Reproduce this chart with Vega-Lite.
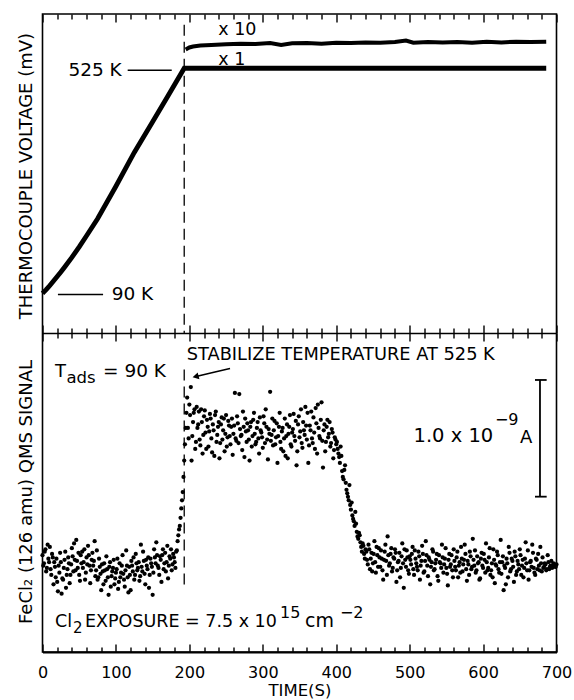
{
"$schema": "https://vega.github.io/schema/vega-lite/v6.json",
"autosize": {"type": "none"},
"width": 514, "height": 638,
"padding": {"left": 42.5, "top": 14, "right": 17.5, "bottom": 48},
"datasets": {
"tc": [{"t":0,"v":12.4},{"t":5,"v":13.6},{"t":10,"v":14.9},{"t":15,"v":16.3},{"t":20,"v":17.7},{"t":25,"v":19.1},{"t":30,"v":20.6},{"t":40,"v":23.7},{"t":50,"v":27.0},{"t":60,"v":30.5},{"t":75,"v":35.8},{"t":100,"v":46.0},{"t":125,"v":56.6},{"t":150,"v":66.2},{"t":170,"v":74.0},{"t":193,"v":83.0},{"t":250,"v":83.0},{"t":400,"v":83.0},{"t":550,"v":83.0},{"t":686,"v":83.0}],
"x10": [{"t":195,"v":88.9},{"t":200,"v":89.5},{"t":205,"v":89.8},{"t":215,"v":90.1},{"t":230,"v":90.3},{"t":250,"v":90.5},{"t":270,"v":90.7},{"t":290,"v":90.6},{"t":310,"v":90.9},{"t":325,"v":90.3},{"t":340,"v":90.8},{"t":360,"v":90.9},{"t":380,"v":90.7},{"t":400,"v":91.0},{"t":420,"v":90.9},{"t":440,"v":91.1},{"t":460,"v":91.0},{"t":480,"v":91.2},{"t":495,"v":91.7},{"t":505,"v":91.0},{"t":525,"v":91.2},{"t":545,"v":91.1},{"t":565,"v":91.2},{"t":585,"v":91.0},{"t":605,"v":91.3},{"t":625,"v":91.1},{"t":645,"v":91.3},{"t":665,"v":91.2},{"t":686,"v":91.3}],
"arrow": [{"t":255.4,"s":2.43},{"t":232,"s":2.395},{"t":209,"s":2.36}],
"qms": [
{"t":0,"s":0.83},{"t":2,"s":0.76},{"t":4,"s":0.88},{"t":6,"s":0.72},{"t":8,"s":0.80},{"t":10,"s":0.90},{"t":12,"s":0.66},{"t":14,"s":0.81},{"t":16,"s":0.77},{"t":18,"s":0.64},
{"t":20,"s":0.60},{"t":22,"s":0.74},{"t":24,"s":0.85},{"t":26,"s":0.50},{"t":28,"s":0.62},{"t":30,"s":0.79},{"t":32,"s":0.55},{"t":34,"s":0.71},{"t":36,"s":0.76},{"t":38,"s":0.66},
{"t":40,"s":0.89},{"t":42,"s":0.69},{"t":44,"s":0.79},{"t":46,"s":0.96},{"t":48,"s":0.72},{"t":50,"s":0.66},{"t":52,"s":0.83},{"t":54,"s":0.86},{"t":56,"s":0.77},{"t":58,"s":0.62},
{"t":60,"s":0.81},{"t":62,"s":0.91},{"t":64,"s":0.74},{"t":66,"s":0.70},{"t":68,"s":0.85},{"t":70,"s":0.78},{"t":72,"s":0.65},{"t":74,"s":0.87},{"t":76,"s":0.64},{"t":78,"s":0.73},
{"t":80,"s":0.53},{"t":82,"s":0.69},{"t":84,"s":0.76},{"t":86,"s":0.61},{"t":88,"s":0.71},{"t":90,"s":0.49},{"t":92,"s":0.77},{"t":94,"s":0.65},{"t":96,"s":0.72},{"t":98,"s":0.58},
{"t":100,"s":0.68},{"t":102,"s":0.80},{"t":104,"s":0.60},{"t":106,"s":0.64},{"t":108,"s":0.74},{"t":110,"s":0.67},{"t":112,"s":0.56},{"t":114,"s":0.87},{"t":116,"s":0.64},{"t":118,"s":0.73},
{"t":120,"s":0.53},{"t":122,"s":0.74},{"t":124,"s":0.81},{"t":126,"s":0.66},{"t":128,"s":0.76},{"t":130,"s":0.72},{"t":132,"s":0.61},{"t":134,"s":0.92},{"t":136,"s":0.69},{"t":138,"s":0.78},
{"t":140,"s":0.58},{"t":142,"s":0.74},{"t":144,"s":0.81},{"t":146,"s":0.66},{"t":148,"s":0.76},{"t":150,"s":0.49},{"t":152,"s":0.88},{"t":154,"s":0.76},{"t":156,"s":0.83},{"t":158,"s":0.72},
{"t":160,"s":0.82},{"t":162,"s":0.60},{"t":164,"s":0.88},{"t":166,"s":0.76},{"t":168,"s":0.69},{"t":170,"s":0.91},{"t":172,"s":0.74},{"t":174,"s":0.80},{"t":176,"s":0.70},{"t":178,"s":0.84},
{"t":180,"s":0.77},{"t":182,"s":0.86},{"t":184,"s":0.95},{"t":186,"s":1.05},{"t":188,"s":1.15},{"t":190,"s":1.30},{"t":191,"s":1.37},{"t":192,"s":1.50},{"t":193,"s":1.64},{"t":194,"s":1.78},{"t":195,"s":1.92},{"t":196,"s":2.05},
{"t":198,"s":1.92},{"t":200,"s":2.12},{"t":202,"s":2.27},{"t":204,"s":1.85},{"t":206,"s":2.05},{"t":208,"s":1.74},{"t":210,"s":2.10},{"t":212,"s":1.95},{"t":214,"s":1.82},{"t":216,"s":2.08},{"t":218,"s":1.70},
{"t":220,"s":2.02},{"t":222,"s":1.88},{"t":224,"s":1.99},{"t":226,"s":1.76},{"t":228,"s":2.04},{"t":230,"s":1.83},{"t":232,"s":1.95},{"t":234,"s":1.68},{"t":236,"s":2.06},{"t":238,"s":1.86},
{"t":240,"s":1.97},{"t":242,"s":1.79},{"t":244,"s":2.01},{"t":246,"s":1.90},{"t":248,"s":1.72},{"t":250,"s":2.03},{"t":252,"s":1.84},{"t":254,"s":1.94},{"t":256,"s":1.78},{"t":258,"s":2.00},
{"t":260,"s":1.87},{"t":262,"s":2.22},{"t":264,"s":1.81},{"t":266,"s":1.96},{"t":268,"s":2.21},{"t":270,"s":1.85},{"t":272,"s":1.73},{"t":274,"s":1.93},{"t":276,"s":2.00},{"t":278,"s":1.80},
{"t":280,"s":1.90},{"t":282,"s":1.64},{"t":284,"s":1.97},{"t":286,"s":1.85},{"t":288,"s":2.05},{"t":290,"s":1.78},{"t":292,"s":1.92},{"t":294,"s":1.83},{"t":296,"s":2.01},{"t":298,"s":1.88},
{"t":300,"s":1.75},{"t":302,"s":1.96},{"t":304,"s":2.08},{"t":306,"s":1.82},{"t":308,"s":1.91},{"t":310,"s":2.23},{"t":312,"s":1.86},{"t":314,"s":1.77},{"t":316,"s":1.98},{"t":318,"s":1.84},
{"t":320,"s":1.62},{"t":322,"s":1.93},{"t":324,"s":1.80},{"t":326,"s":1.89},{"t":328,"s":1.72},{"t":330,"s":2.00},{"t":332,"s":1.85},{"t":334,"s":1.66},{"t":336,"s":1.93},{"t":338,"s":1.78},
{"t":340,"s":1.88},{"t":342,"s":2.04},{"t":344,"s":1.81},{"t":346,"s":1.60},{"t":348,"s":1.95},{"t":350,"s":1.84},{"t":352,"s":2.08},{"t":354,"s":1.75},{"t":356,"s":1.90},{"t":358,"s":2.10},
{"t":360,"s":1.82},{"t":362,"s":1.62},{"t":364,"s":1.94},{"t":366,"s":2.06},{"t":368,"s":1.79},{"t":370,"s":1.88},{"t":372,"s":2.09},{"t":374,"s":1.70},{"t":376,"s":1.92},{"t":378,"s":1.83},
{"t":380,"s":2.14},{"t":382,"s":1.58},{"t":384,"s":1.95},{"t":386,"s":1.80},{"t":388,"s":1.99},{"t":390,"s":1.87},{"t":392,"s":1.76},{"t":394,"s":1.91},{"t":396,"s":1.66},{"t":398,"s":1.84},
{"t":400,"s":1.78},{"t":402,"s":1.74},{"t":404,"s":1.67},{"t":406,"s":1.76},{"t":408,"s":1.55},{"t":410,"s":1.48},{"t":412,"s":1.60},{"t":414,"s":1.39},{"t":416,"s":1.33},{"t":418,"s":1.43},
{"t":420,"s":1.22},{"t":422,"s":1.17},{"t":424,"s":1.12},{"t":426,"s":1.20},{"t":428,"s":1.03},{"t":430,"s":0.97},{"t":432,"s":1.00},{"t":434,"s":0.90},{"t":436,"s":0.93},{"t":438,"s":0.84},
{"t":440,"s":0.88},{"t":442,"s":0.79},{"t":444,"s":0.92},{"t":446,"s":0.71},{"t":448,"s":0.85},{"t":450,"s":0.76},{"t":452,"s":0.95},{"t":454,"s":0.68},{"t":456,"s":0.83},{"t":458,"s":0.89},
{"t":460,"s":0.73},{"t":462,"s":0.80},{"t":464,"s":0.62},{"t":466,"s":0.86},{"t":468,"s":0.78},{"t":470,"s":0.99},{"t":472,"s":0.74},{"t":474,"s":0.84},{"t":476,"s":0.69},{"t":478,"s":0.81},
{"t":480,"s":0.88},{"t":482,"s":0.60},{"t":484,"s":0.77},{"t":486,"s":0.85},{"t":488,"s":0.72},{"t":490,"s":0.93},{"t":492,"s":0.55},{"t":494,"s":0.79},{"t":496,"s":0.87},{"t":498,"s":0.70},
{"t":500,"s":0.82},{"t":502,"s":0.75},{"t":504,"s":0.90},{"t":506,"s":0.66},{"t":508,"s":0.80},{"t":510,"s":0.73},{"t":512,"s":0.86},{"t":514,"s":0.62},{"t":516,"s":0.78},{"t":518,"s":0.84},
{"t":520,"s":0.69},{"t":522,"s":0.95},{"t":524,"s":0.74},{"t":526,"s":0.81},{"t":528,"s":0.58},{"t":530,"s":0.77},{"t":532,"s":0.86},{"t":534,"s":0.71},{"t":536,"s":0.79},{"t":538,"s":0.65},
{"t":540,"s":0.83},{"t":542,"s":0.76},{"t":544,"s":0.92},{"t":546,"s":0.68},{"t":548,"s":0.80},{"t":550,"s":0.72},{"t":552,"s":0.57},{"t":554,"s":0.84},{"t":556,"s":0.75},{"t":558,"s":0.70},
{"t":560,"s":0.88},{"t":562,"s":0.73},{"t":564,"s":0.81},{"t":566,"s":0.64},{"t":568,"s":0.77},{"t":570,"s":0.90},{"t":572,"s":0.69},{"t":574,"s":0.79},{"t":576,"s":0.84},{"t":578,"s":0.61},
{"t":580,"s":0.75},{"t":582,"s":0.86},{"t":584,"s":0.71},{"t":586,"s":0.97},{"t":588,"s":0.74},{"t":590,"s":0.68},{"t":592,"s":0.82},{"t":594,"s":0.77},{"t":596,"s":0.63},{"t":598,"s":0.85},
{"t":600,"s":0.72},{"t":602,"s":0.79},{"t":604,"s":0.93},{"t":606,"s":0.70},{"t":608,"s":0.81},{"t":610,"s":0.66},{"t":612,"s":0.76},{"t":614,"s":0.88},{"t":616,"s":0.59},{"t":618,"s":0.74},
{"t":620,"s":0.83},{"t":622,"s":0.68},{"t":624,"s":0.96},{"t":626,"s":0.77},{"t":628,"s":0.53},{"t":630,"s":0.72},{"t":632,"s":0.80},{"t":634,"s":0.64},{"t":636,"s":0.85},{"t":638,"s":0.71},
{"t":640,"s":0.78},{"t":642,"s":0.60},{"t":644,"s":0.82},{"t":646,"s":0.69},{"t":648,"s":0.75},{"t":650,"s":0.88},{"t":652,"s":0.66},{"t":654,"s":0.79},{"t":656,"s":0.72},{"t":658,"s":0.94},
{"t":660,"s":0.70},{"t":662,"s":0.62},{"t":664,"s":0.77},{"t":666,"s":0.73},{"t":668,"s":0.85},{"t":670,"s":0.68},{"t":672,"s":0.80},{"t":674,"s":0.71},{"t":676,"s":0.74},{"t":678,"s":0.90},
{"t":680,"s":0.69},{"t":682,"s":0.72},{"t":684,"s":0.76},{"t":686,"s":0.70},{"t":688,"s":0.83},{"t":690,"s":0.71},{"t":692,"s":0.74},{"t":694,"s":0.72},{"t":696,"s":0.76},{"t":698,"s":0.73},{"t":700,"s":0.75},
{"t":1,"s":0.74},{"t":3,"s":0.86},{"t":5,"s":0.69},{"t":7,"s":0.92},{"t":9,"s":0.77},{"t":11,"s":0.71},{"t":13,"s":0.84},{"t":15,"s":0.58},{"t":17,"s":0.73},{"t":19,"s":0.80},
{"t":21,"s":0.52},{"t":23,"s":0.68},{"t":25,"s":0.77},{"t":27,"s":0.63},{"t":29,"s":0.72},{"t":31,"s":0.86},{"t":33,"s":0.66},{"t":35,"s":0.81},{"t":37,"s":0.59},{"t":39,"s":0.75},
{"t":41,"s":0.82},{"t":43,"s":0.93},{"t":45,"s":0.70},{"t":47,"s":0.78},{"t":49,"s":0.85},{"t":51,"s":0.61},{"t":53,"s":0.76},{"t":55,"s":0.72},{"t":57,"s":0.88},{"t":59,"s":0.68},
{"t":61,"s":0.75},{"t":63,"s":0.83},{"t":65,"s":0.59},{"t":67,"s":0.79},{"t":69,"s":0.74},{"t":71,"s":0.95},{"t":73,"s":0.70},{"t":75,"s":0.62},{"t":77,"s":0.80},{"t":79,"s":0.67},
{"t":81,"s":0.75},{"t":83,"s":0.58},{"t":85,"s":0.70},{"t":87,"s":0.82},{"t":89,"s":0.64},{"t":91,"s":0.73},{"t":93,"s":0.56},{"t":95,"s":0.69},{"t":97,"s":0.79},{"t":99,"s":0.63},
{"t":101,"s":0.71},{"t":103,"s":0.54},{"t":105,"s":0.76},{"t":107,"s":0.68},{"t":109,"s":0.83},{"t":111,"s":0.62},{"t":113,"s":0.70},{"t":115,"s":0.74},{"t":117,"s":0.51},{"t":119,"s":0.66},
{"t":121,"s":0.78},{"t":123,"s":0.69},{"t":125,"s":0.62},{"t":127,"s":0.84},{"t":129,"s":0.70},{"t":131,"s":0.77},{"t":133,"s":0.65},{"t":135,"s":0.73},{"t":137,"s":0.86},{"t":139,"s":0.67},
{"t":141,"s":0.79},{"t":143,"s":0.71},{"t":145,"s":0.55},{"t":147,"s":0.80},{"t":149,"s":0.73},{"t":151,"s":0.68},{"t":153,"s":0.81},{"t":155,"s":0.94},{"t":157,"s":0.74},{"t":159,"s":0.66},
{"t":161,"s":0.79},{"t":163,"s":0.83},{"t":165,"s":0.71},{"t":167,"s":0.85},{"t":169,"s":0.77},{"t":171,"s":0.63},{"t":173,"s":0.82},{"t":175,"s":0.88},{"t":177,"s":0.75},{"t":179,"s":0.81},
{"t":181,"s":0.72},{"t":183,"s":0.87},{"t":185,"s":1.00},{"t":187,"s":1.08},{"t":189,"s":1.23},
{"t":197,"s":2.18},{"t":199,"s":1.83},{"t":201,"s":2.03},{"t":203,"s":1.64},{"t":205,"s":1.97},{"t":207,"s":2.08},{"t":209,"s":1.80},{"t":211,"s":1.92},{"t":213,"s":2.06},{"t":215,"s":1.77},
{"t":217,"s":1.97},{"t":219,"s":1.86},{"t":221,"s":2.07},{"t":223,"s":1.74},{"t":225,"s":1.93},{"t":227,"s":1.89},{"t":229,"s":2.00},{"t":231,"s":1.71},{"t":233,"s":1.90},{"t":235,"s":2.03},
{"t":237,"s":1.80},{"t":239,"s":1.93},{"t":241,"s":1.66},{"t":243,"s":1.95},{"t":245,"s":1.82},{"t":247,"s":2.00},{"t":249,"s":1.87},{"t":251,"s":1.76},{"t":253,"s":1.98},{"t":255,"s":1.85},
{"t":257,"s":1.93},{"t":259,"s":1.69},{"t":261,"s":1.94},{"t":263,"s":1.83},{"t":265,"s":2.02},{"t":267,"s":1.79},{"t":269,"s":1.91},{"t":271,"s":1.86},{"t":273,"s":2.06},{"t":275,"s":1.67},
{"t":277,"s":1.89},{"t":279,"s":1.96},{"t":281,"s":1.82},{"t":283,"s":1.93},{"t":285,"s":1.76},{"t":287,"s":1.99},{"t":289,"s":1.87},{"t":291,"s":1.80},{"t":293,"s":1.97},{"t":295,"s":1.70},
{"t":297,"s":1.90},{"t":299,"s":1.84},{"t":301,"s":2.02},{"t":303,"s":1.79},{"t":305,"s":1.93},{"t":307,"s":1.65},{"t":309,"s":1.87},{"t":311,"s":1.81},{"t":313,"s":2.00},{"t":315,"s":1.90},
{"t":317,"s":1.78},{"t":319,"s":1.96},{"t":321,"s":1.85},{"t":323,"s":2.05},{"t":325,"s":1.74},{"t":327,"s":1.92},{"t":329,"s":1.83},{"t":331,"s":1.68},{"t":333,"s":1.95},{"t":335,"s":1.87},
{"t":337,"s":2.03},{"t":339,"s":1.76},{"t":341,"s":1.91},{"t":343,"s":1.85},{"t":345,"s":1.98},{"t":347,"s":1.72},{"t":349,"s":2.02},{"t":351,"s":1.89},{"t":353,"s":1.79},{"t":355,"s":1.97},
{"t":357,"s":1.86},{"t":359,"s":1.94},{"t":361,"s":2.05},{"t":363,"s":1.77},{"t":365,"s":1.90},{"t":367,"s":1.83},{"t":369,"s":2.01},{"t":371,"s":1.74},{"t":373,"s":1.96},{"t":375,"s":2.12},
{"t":377,"s":1.85},{"t":379,"s":1.99},{"t":381,"s":1.81},{"t":383,"s":1.90},{"t":385,"s":1.72},{"t":387,"s":1.93},{"t":389,"s":1.84},{"t":391,"s":1.97},{"t":393,"s":1.79},{"t":395,"s":1.88},
{"t":397,"s":1.73},{"t":399,"s":1.82},
{"t":401,"s":1.80},{"t":403,"s":1.70},{"t":405,"s":1.62},{"t":407,"s":1.68},{"t":409,"s":1.50},{"t":411,"s":1.56},{"t":413,"s":1.45},{"t":415,"s":1.36},{"t":417,"s":1.30},{"t":419,"s":1.26},
{"t":421,"s":1.28},{"t":423,"s":1.14},{"t":425,"s":1.08},{"t":427,"s":1.10},{"t":429,"s":0.99},{"t":431,"s":1.02},{"t":433,"s":0.94},{"t":435,"s":0.86},{"t":437,"s":0.91},{"t":439,"s":0.80},
{"t":441,"s":0.86},{"t":443,"s":0.75},{"t":445,"s":0.88},{"t":447,"s":0.80},{"t":449,"s":0.69},{"t":451,"s":0.84},{"t":453,"s":0.77},{"t":455,"s":0.90},{"t":457,"s":0.73},{"t":459,"s":0.81},
{"t":461,"s":0.87},{"t":463,"s":0.70},{"t":465,"s":0.79},{"t":467,"s":0.92},{"t":469,"s":0.66},{"t":471,"s":0.83},{"t":473,"s":0.76},{"t":475,"s":0.89},{"t":477,"s":0.72},{"t":479,"s":0.80},
{"t":481,"s":0.85},{"t":483,"s":0.70},{"t":485,"s":0.78},{"t":487,"s":0.64},{"t":489,"s":0.82},{"t":491,"s":0.76},{"t":493,"s":0.88},{"t":495,"s":0.73},{"t":497,"s":0.81},{"t":499,"s":0.67},
{"t":501,"s":0.79},{"t":503,"s":0.84},{"t":505,"s":0.71},{"t":507,"s":0.87},{"t":509,"s":0.76},{"t":511,"s":0.70},{"t":513,"s":0.82},{"t":515,"s":0.74},{"t":517,"s":0.91},{"t":519,"s":0.68},
{"t":521,"s":0.78},{"t":523,"s":0.83},{"t":525,"s":0.65},{"t":527,"s":0.79},{"t":529,"s":0.73},{"t":531,"s":0.88},{"t":533,"s":0.70},{"t":535,"s":0.76},{"t":537,"s":0.84},{"t":539,"s":0.61},
{"t":541,"s":0.77},{"t":543,"s":0.72},{"t":545,"s":0.81},{"t":547,"s":0.75},{"t":549,"s":0.89},{"t":551,"s":0.67},{"t":553,"s":0.79},{"t":555,"s":0.73},{"t":557,"s":0.83},{"t":559,"s":0.64},
{"t":561,"s":0.78},{"t":563,"s":0.70},{"t":565,"s":0.86},{"t":567,"s":0.74},{"t":569,"s":0.68},{"t":571,"s":0.80},{"t":573,"s":0.75},{"t":575,"s":0.92},{"t":577,"s":0.71},{"t":579,"s":0.78},
{"t":581,"s":0.66},{"t":583,"s":0.82},{"t":585,"s":0.73},{"t":587,"s":0.79},{"t":589,"s":0.87},{"t":591,"s":0.70},{"t":593,"s":0.76},{"t":595,"s":0.62},{"t":597,"s":0.80},{"t":599,"s":0.74},
{"t":601,"s":0.84},{"t":603,"s":0.68},{"t":605,"s":0.77},{"t":607,"s":0.72},{"t":609,"s":0.89},{"t":611,"s":0.70},{"t":613,"s":0.64},{"t":615,"s":0.79},{"t":617,"s":0.75},{"t":619,"s":0.86},
{"t":621,"s":0.71},{"t":623,"s":0.77},{"t":625,"s":0.67},{"t":627,"s":0.82},{"t":629,"s":0.74},{"t":631,"s":0.58},{"t":633,"s":0.76},{"t":635,"s":0.90},{"t":637,"s":0.69},{"t":639,"s":0.80},
{"t":641,"s":0.73},{"t":643,"s":0.86},{"t":645,"s":0.66},{"t":647,"s":0.78},{"t":649,"s":0.71},{"t":651,"s":0.83},{"t":653,"s":0.74},{"t":655,"s":0.64},{"t":657,"s":0.80},{"t":659,"s":0.76},
{"t":661,"s":0.87},{"t":663,"s":0.70},{"t":665,"s":0.78},{"t":667,"s":0.92},{"t":669,"s":0.72},{"t":671,"s":0.66},{"t":673,"s":0.79},{"t":675,"s":0.84},{"t":677,"s":0.70},{"t":679,"s":0.76},
{"t":681,"s":0.81},{"t":683,"s":0.73},{"t":685,"s":0.75},{"t":687,"s":0.71},{"t":689,"s":0.77},{"t":691,"s":0.73},{"t":693,"s":0.78},{"t":695,"s":0.74},{"t":697,"s":0.75},{"t":699,"s":0.73}
]
},
"config": {
"font": "DejaVu Sans",
"view": {"stroke": "black", "strokeWidth": 1.6},
"axis": {"labelFont": "DejaVu Sans", "titleFont": "DejaVu Sans", "labelColor": "black", "titleColor": "black", "tickColor": "black", "domainColor": "black", "grid": false, "titleFontWeight": "normal", "tickWidth": 1.4},
"text": {"font": "DejaVu Sans", "color": "black"}
},
"resolve": {"scale": {"y": "independent"}, "axis": {"x": "independent", "y": "independent"}},
"layer": [
{
"resolve": {"axis": {"x": "independent"}},
"layer": [
{
"data": {"name": "tc"},
"mark": {"type": "line", "color": "black", "strokeWidth": 4.8},
"encoding": {
"x": {"field": "t", "type": "quantitative", "scale": {"domain": [0, 700], "nice": false, "zero": false},
 "axis": {"orient": "top", "title": null, "labels": false, "domain": false, "values": [0,20,40,60,80,100,120,140,160,180,200,220,240,260,280,300,320,340,360,380,400,420,440,460,480,500,520,540,560,580,600,620,640,660,680,700],
  "tickSize": {"condition": {"test": "datum.value % 100 === 0", "value": -8}, "value": -5}}},
"y": {"field": "v", "type": "quantitative", "scale": {"domain": [-100, 100], "nice": false, "zero": false}, "axis": null}
}
},
{
"data": {"name": "x10"},
"mark": {"type": "line", "color": "black", "strokeWidth": 4},
"encoding": {
"x": {"field": "t", "type": "quantitative",
 "axis": {"orient": "bottom", "offset": -319, "title": null, "labels": false, "domain": true, "domainWidth": 1.6, "values": [0,20,40,60,80,100,120,140,160,180,200,220,240,260,280,300,320,340,360,380,400,420,440,460,480,500,520,540,560,580,600,620,640,660,680,700],
  "tickSize": {"condition": {"test": "datum.value % 100 === 0", "value": -8}, "value": -5}}},
"y": {"field": "v", "type": "quantitative", "axis": null}
}
},
{
"data": {"values": [{}]},
"mark": {"type": "rule", "color": "black", "strokeWidth": 1.3, "strokeDash": [11, 6]},
"encoding": {"x": {"datum": 193, "axis": null}, "y": {"datum": 96.6, "axis": null}, "y2": {"datum": 0}}
},
{
"data": {"values": [{}]},
"mark": {"type": "rule", "color": "black", "strokeWidth": 1.5},
"encoding": {"x": {"datum": 116, "axis": null}, "x2": {"datum": 176}, "y": {"datum": 82.4, "axis": null}}
},
{
"data": {"values": [{}]},
"mark": {"type": "rule", "color": "black", "strokeWidth": 1.5},
"encoding": {"x": {"datum": 21, "axis": null}, "x2": {"datum": 82.5}, "y": {"datum": 12.1, "axis": null}}
},
{
"data": {"values": [{}]},
"mark": {"type": "text", "align": "left", "baseline": "alphabetic", "fontSize": 17.5},
"encoding": {"x": {"datum": 239.4, "axis": null}, "y": {"datum": 93.4, "axis": null}, "text": {"value": "x 10"}}
},
{
"data": {"values": [{}]},
"mark": {"type": "text", "align": "left", "baseline": "alphabetic", "fontSize": 17.5},
"encoding": {"x": {"datum": 239.4, "axis": null}, "y": {"datum": 84.0, "axis": null}, "text": {"value": "x 1"}}
},
{
"data": {"values": [{}]},
"mark": {"type": "text", "align": "right", "baseline": "alphabetic", "fontSize": 18.5},
"encoding": {"x": {"datum": 107.9, "axis": null}, "y": {"datum": 80.6, "axis": null}, "text": {"value": "525 K"}}
},
{
"data": {"values": [{}]},
"mark": {"type": "text", "align": "left", "baseline": "alphabetic", "fontSize": 18.5},
"encoding": {"x": {"datum": 94.2, "axis": null}, "y": {"datum": 10.3, "axis": null}, "text": {"value": "90 K"}}
},
{
"data": {"values": [{}]},
"mark": {"type": "text", "align": "center", "baseline": "middle", "fontSize": 18, "angle": 270},
"encoding": {"x": {"datum": -21, "axis": null}, "y": {"datum": 49.2, "axis": null}, "text": {"value": "THERMOCOUPLE VOLTAGE (mV)"}}
}
]
},
{
"resolve": {"axis": {"x": "independent"}},
"layer": [
{
"data": {"name": "qms"},
"mark": {"type": "circle", "color": "black", "opacity": 1, "size": 18},
"encoding": {
"x": {"field": "t", "type": "quantitative",
 "axis": {"orient": "bottom", "title": "TIME(S)", "titleFontSize": 16.5, "titlePadding": 2, "labelFontSize": 16, "labelPadding": 12.5, "ticks": false, "domain": false, "values": [0,100,200,300,400,500,600,700], "labelFlush": false}},
"y": {"field": "s", "type": "quantitative", "scale": {"domain": [0, 5.467], "nice": false, "zero": false}, "axis": null}
}
},
{
"data": {"values": [{}]},
"mark": {"type": "rule", "color": "black", "strokeWidth": 1.3, "strokeDash": [11, 6]},
"encoding": {
"x": {"datum": 193, "axis": {"orient": "bottom", "title": null, "labels": false, "domain": true, "domainWidth": 2.2, "values": [0,20,40,60,80,100,120,140,160,180,200,220,240,260,280,300,320,340,360,380,400,420,440,460,480,500,520,540,560,580,600,620,640,660,680,700],
  "tickSize": {"condition": {"test": "datum.value % 100 === 0", "value": -8}, "value": -5}}},
"y": {"datum": 2.42, "axis": null}, "y2": {"datum": 0.53}}
},
{
"data": {"values": [{}]},
"mark": {"type": "rule", "color": "black", "strokeWidth": 1.8},
"encoding": {
"x": {"datum": 677.5, "axis": {"orient": "top", "offset": -319, "title": null, "labels": false, "domain": false, "values": [0,20,40,60,80,100,120,140,160,180,200,220,240,260,280,300,320,340,360,380,400,420,440,460,480,500,520,540,560,580,600,620,640,660,680,700],
  "tickSize": {"condition": {"test": "datum.value % 100 === 0", "value": -8}, "value": -5}}},
"y": {"datum": 1.331, "axis": null}, "y2": {"datum": 2.331}}
},
{
"data": {"values": [{}]},
"mark": {"type": "rule", "color": "black", "strokeWidth": 1.8},
"encoding": {"x": {"datum": 670.7, "axis": null}, "x2": {"datum": 686.6}, "y": {"datum": 2.331, "axis": null}}
},
{
"data": {"values": [{}]},
"mark": {"type": "rule", "color": "black", "strokeWidth": 1.8},
"encoding": {"x": {"datum": 670.7, "axis": null}, "x2": {"datum": 686.6}, "y": {"datum": 1.331, "axis": null}}
},
{
"data": {"name": "arrow"},
"mark": {"type": "line", "color": "black", "strokeWidth": 1.5, "interpolate": "monotone"},
"encoding": {"x": {"field": "t", "type": "quantitative", "axis": null}, "y": {"field": "s", "type": "quantitative", "axis": null}}
},
{
"data": {"values": [{}]},
"mark": {"type": "point", "shape": "triangle-left", "filled": true, "color": "black", "opacity": 1, "size": 50, "angle": 346},
"encoding": {"x": {"datum": 208.5, "axis": null}, "y": {"datum": 2.36, "axis": null}}
},
{
"data": {"values": [{}]},
"mark": {"type": "text", "align": "left", "baseline": "alphabetic", "fontSize": 17.8},
"encoding": {"x": {"datum": 196.4, "axis": null}, "y": {"datum": 2.502, "axis": null}, "text": {"value": "STABILIZE TEMPERATURE AT 525 K"}}
},
{
"data": {"values": [{}]},
"mark": {"type": "text", "align": "left", "baseline": "alphabetic", "fontSize": 18},
"encoding": {"x": {"datum": 17, "axis": null}, "y": {"datum": 2.356, "axis": null}, "text": {"value": "T"}}
},
{
"data": {"values": [{}]},
"mark": {"type": "text", "align": "left", "baseline": "alphabetic", "fontSize": 16.5},
"encoding": {"x": {"datum": 32.6, "axis": null}, "y": {"datum": 2.305, "axis": null}, "text": {"value": "ads"}}
},
{
"data": {"values": [{}]},
"mark": {"type": "text", "align": "left", "baseline": "alphabetic", "fontSize": 18.5},
"encoding": {"x": {"datum": 82.4, "axis": null}, "y": {"datum": 2.356, "axis": null}, "text": {"value": "= 90 K"}}
},
{
"data": {"values": [{}]},
"mark": {"type": "text", "align": "right", "baseline": "alphabetic", "fontSize": 19.5},
"encoding": {"x": {"datum": 613.9, "axis": null}, "y": {"datum": 1.802, "axis": null}, "text": {"value": "1.0 x 10"}}
},
{
"data": {"values": [{}]},
"mark": {"type": "text", "align": "left", "baseline": "alphabetic", "fontSize": 16},
"encoding": {"x": {"datum": 616.2, "axis": null}, "y": {"datum": 1.945, "axis": null}, "text": {"value": "−9"}}
},
{
"data": {"values": [{}]},
"mark": {"type": "text", "align": "left", "baseline": "alphabetic", "fontSize": 18},
"encoding": {"x": {"datum": 650.3, "axis": null}, "y": {"datum": 1.79, "axis": null}, "text": {"value": "A"}}
},
{
"data": {"values": [{}]},
"mark": {"type": "text", "align": "left", "baseline": "alphabetic", "fontSize": 17.5},
"encoding": {"x": {"datum": 17, "axis": null}, "y": {"datum": 0.214, "axis": null}, "text": {"value": "Cl"}}
},
{
"data": {"values": [{}]},
"mark": {"type": "text", "align": "left", "baseline": "alphabetic", "fontSize": 15},
"encoding": {"x": {"datum": 41.5, "axis": null}, "y": {"datum": 0.163, "axis": null}, "text": {"value": "2"}}
},
{
"data": {"values": [{}]},
"mark": {"type": "text", "align": "left", "baseline": "alphabetic", "fontSize": 17.5},
"encoding": {"x": {"datum": 57.9, "axis": null}, "y": {"datum": 0.214, "axis": null}, "text": {"value": "EXPOSURE = 7.5 x 10"}}
},
{
"data": {"values": [{}]},
"mark": {"type": "text", "align": "left", "baseline": "alphabetic", "fontSize": 16},
"encoding": {"x": {"datum": 323.4, "axis": null}, "y": {"datum": 0.292, "axis": null}, "text": {"value": "15"}}
},
{
"data": {"values": [{}]},
"mark": {"type": "text", "align": "left", "baseline": "alphabetic", "fontSize": 19},
"encoding": {"x": {"datum": 357.5, "axis": null}, "y": {"datum": 0.214, "axis": null}, "text": {"value": "cm"}}
},
{
"data": {"values": [{}]},
"mark": {"type": "text", "align": "left", "baseline": "alphabetic", "fontSize": 16},
"encoding": {"x": {"datum": 405, "axis": null}, "y": {"datum": 0.292, "axis": null}, "text": {"value": "−2"}}
},
{
"data": {"values": [{}]},
"mark": {"type": "text", "align": "center", "baseline": "middle", "fontSize": 18, "angle": 270},
"encoding": {"x": {"datum": -21, "axis": null}, "y": {"datum": 1.371, "axis": null}, "text": {"value": "FeCl₂ (126 amu) QMS SIGNAL"}}
}
]
}
]
}
